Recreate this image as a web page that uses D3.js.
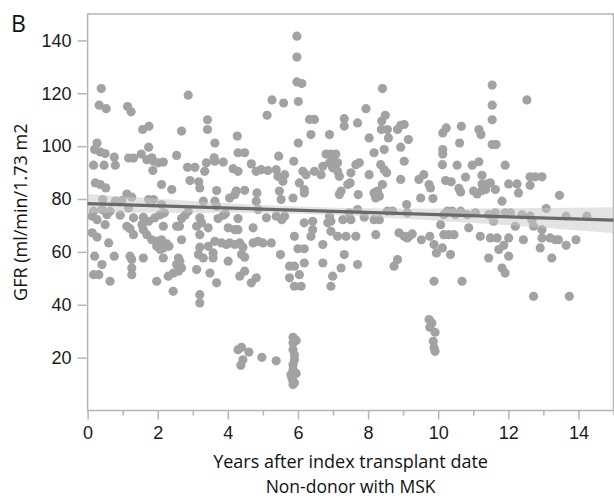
<!DOCTYPE html>
<html>
<head>
<meta charset="utf-8">
<script src="https://cdn.jsdelivr.net/npm/d3@7"></script>
<style>
  body { margin: 0; background: #fff; }
  svg { display: block; font-family: "Open Sans", "Noto Sans", sans-serif; }
  .tick text { fill: #1a1a1a; }
</style>
</head>
<body>
<svg width="614" height="499"></svg>
<script>
// x ticks (years) and y ticks (GFR)
const xMajor = [0, 2, 4, 6, 8, 10, 12, 14];
const xMinor = [1, 3, 5, 7, 9, 11, 13, 15];
const yTicks = [20, 40, 60, 80, 100, 120, 140];

// fitted line and its confidence band
const trendX = [0, 15];
const trendY = [78.3, 72.0];
const bandX = [0, 2, 4, 6, 8, 10, 12, 14, 15];
const bandHi = [81.9, 80.1, 78.4, 77.2, 76.5, 76.4, 76.5, 76.7, 76.9];
const bandLo = [74.7, 74.8, 74.8, 74.4, 73.3, 71.8, 70.1, 68.1, 67.1];

// [years after transplant, GFR]
const points = [
  [0.39,121.8],[0.33,115.5],[0.53,114.2],[1.14,115],[1.24,113],[2.87,119.3],[3.42,110],[3.42,106.3],[3.63,101.2],
  [1.57,106.3],[1.75,107.5],[2.68,105.7],[4.27,103.8],[1.74,99.6],[0.27,101.2],[0.2,98.7],[0.36,97.8],[0.5,97.2],
  [0.76,95.9],[1.17,95.5],[1.31,95.5],[1.53,97],[1.83,95.6],[2.54,96.5],[3.61,95.6],[4.29,97.5],[4.48,97.5],
  [5.97,141.6],[5.97,133.7],[5.97,124.3],[6.11,123.7],[5.26,117.5],[5.59,116.3],[6.01,116.9],[5.12,111.7],[8.41,121.8],
  [7.94,114.2],[6.33,110.1],[6.47,110.1],[7.32,110.4],[7.32,107.6],[7.7,108.8],[8.49,111.7],[8.39,109.5],[8.38,106.3],
  [8.55,106.3],[8.84,106.3],[8.93,107.9],[9.03,108.2],[6.37,104.4],[6.9,104.4],[8.03,103.1],[8.58,103.1],[9.15,102.5],
  [6.01,101.2],[8.93,99.6],[8.46,98.7],[8.17,97.5],[6.8,97],[6.94,97],[7.08,97],[5.45,96.2],
  [11.54,123.1],[12.53,117.5],[11.54,115.5],[11.54,110],[10.23,106.9],[10.13,105],[10.66,107.5],[11.16,106.3],[11.22,104.4],
  [10.61,101.2],[11.54,100.6],[11.65,100.6],[10.13,98.7],[10.13,97],
  [0.17,92.8],[0.47,92.8],[0.79,92.8],[1.69,94.9],[1.88,94.3],[2.02,93.7],[2.16,94],[1.86,90.8],[2.85,92],[3.06,92],
  [3.39,93.7],[3.34,90.5],[3.63,94.3],[3.87,94],[4.15,91.5],[4.29,90.5],[4.67,93.3],[4.81,90.5],
  [0.22,86.1],[0.36,85.5],[0.52,84.2],[2.11,85.5],[2.4,83.6],[2.92,87],[3.17,86.5],[3.2,84.2],[3.68,83.2],[4.24,83],
  [4.48,83.3],[4.83,82.3],
  [1.12,81.9],[1.26,80.7],[0.43,79.8],[0.79,79.2],[0.98,79.4],[1.74,79.8],[1.88,79.8],[2.11,77.9],[3.3,79.2],[3.63,79.2],
  [3.68,77.3],[4.05,80.4],[4.2,81.7],[4.81,79.2],[0.17,75.4],[0.41,76],[0.64,75.4],[1.17,76.6],[2.87,75.4],[4.86,76],
  [0.13,73.5],[0.27,72.2],[0.55,74.1],[0.93,73.9],[1.31,72.9],[1.59,73.1],[1.74,71.6],[1.92,72.9],[2.07,74.1],[2.19,74.8],
  [2.68,72.6],[2.78,73.9],[3.2,72.9],[3.25,71],[3.72,72.6],[3.87,73.9],[3.93,74.4],[4.29,72.6],[0.5,70.3],[1.12,69.7],
  [1.21,68.8],[1.55,70.3],[1.59,68.4],[2.16,69.7],[2.54,69.7],[2.62,69.7],[3.11,69.7],[3.44,69.1],[4.01,69.1],[4.2,68.4],
  [4.29,68.4],[4.72,69.1],
  [0.13,67.2],[0.27,65.6],[1.31,66.5],[1.69,66.5],[1.83,64.6],[1.97,64],[2.11,64.6],[2.26,63],[2.32,62.1],[2.68,64.6],
  [3.2,66.5],[3.63,64],[3.82,63.4],[3.96,62.8],[4.05,63.4],[4.2,62.8],[4.34,63.4],[4.43,61.8],[4.72,63.4],[4.86,64],
  [0.6,63.4],[1.97,62.1],[2.07,60.9],[2.16,61.5],[3.2,61.8],[3.44,62.1],[3.58,59.6],
  [0.2,58.4],[0.76,58.4],[1.21,58.4],[1.26,57.1],[1.59,57.7],[2.16,57.7],[2.59,57.7],[2.63,56.5],[2.54,55.2],[3.16,59],
  [3.3,57.7],[3.58,57.7],[4.01,56.5],[4.39,59],[4.48,58],[0.41,55.2],[1.26,53.9],[2.68,53.9],[2.59,52.7],[2.45,52],
  [3.11,53.3],[3.49,52],[4.48,52.7],[4.34,50.8],[0.17,51.4],[0.32,51.4],[1.26,51.4],[2.3,50.8],[0.64,48.9],[1.97,48.9],
  [3.68,48.3],[4.81,50.2],[4.67,48.3],
  [2.44,45.1],[3.2,43.8],[3.2,40.7],
  [4.29,23],[4.39,23.9],[4.6,22.1],[4.43,19.2],[4.37,17.1],[4.97,20.1],[5.38,18.8],
  [5.86,27.7],[5.86,25.5],[5.95,26.5],[5.86,23],[5.9,21],[5.9,19.2],[5.86,17.3],[5.86,15.4],[5.95,14],[5.8,13.5],
  [5.83,12.3],[5.86,11],[5.9,10.5],[5.86,9.8],
  [9.74,34.4],[9.82,33.1],[9.76,31.5],[9.91,29.6],[9.86,26.2],[9.88,23.7],[9.91,22.4],
  [5.9,47],[6.09,47],[6.94,47],[12.72,43.2],[13.74,43.2],
  [5.14,90.8],[5.38,91.1],[5.43,88.6],[5.57,86.7],[5.62,89.2],[4.95,91.1],[5.88,94.3],[6.14,90.5],[6.23,89.2],[6.47,90.5],
  [6.66,89.2],[6.71,92.4],[6.9,93.7],[6.99,91.8],[7.13,90.5],[7.18,88.6],[6.99,95.6],[7.13,93.7],[7.51,89.9],[7.65,93],
  [7.75,93.7],[8.03,89.2],[8.36,93],[8.46,91.1],[8.53,89.9],[9.03,94.3],[9.45,87.4],[9.59,89.2],[9.74,85.5],[9.78,84.2],
  [8.93,87.4],
  [5.47,83],[6.04,86.1],[6.18,83.6],[6.18,82.3],[7.23,83],[7.18,81.7],[7.49,86.1],[7.42,85.5],[7.72,81.7],[8.17,82.3],
  [8.27,83],[8.32,81.1],[8.22,80.4],[8.41,85.5],[9.5,80.4],[9.85,80.2],[5.52,79.8],[5.86,80.4],
  [5.1,72.9],[5.38,73.5],[5.54,72.2],[5.62,73.5],[6.18,71],[6.42,71.6],[6.9,73.5],[6.85,71],[6.94,71.6],[7.28,72.2],
  [7.46,74.8],[7.51,72.2],[7.7,76],[7.89,73.1],[8.17,72.2],[8.32,72.2],[8.55,75.4],[8.7,75.4],[9.1,77.9],[9.12,74.8],
  [6.42,68.4],[6.37,65.9],[6.94,67.8],[7.13,65.9],[7.37,65.9],[7.65,65.9],[8.22,66.5],[8.88,67.2],[9.03,65.9],[9.17,65.9],
  [9.26,66.8],[9.12,65.3],[9.52,64.6],[9.76,65.9],[5.9,65.9],[5.0,63.4],[5.24,63.4],[6.0,61.2],[6.18,61.2],[6.71,62.8],
  [9.88,62.8],[9.95,59.6],[5.5,59],[7.32,59],[5.76,54.6],[5.9,54.6],[6.18,55.8],[6.71,55.8],[7.23,53.9],[7.7,55.2],
  [8.84,57.1],[8.74,54.6],[6.04,51.4],[5.76,50.2],[6.99,50.8],[9.88,48.9],
  [10.12,93],[10.54,92.8],[10.97,92.8],[11.16,94.1],[11.91,92.8],[10.21,87],[10.37,86.5],[10.78,88.3],[10.59,84],[10.64,82.7],
  [11.25,89],[11.25,85.7],[11.4,85.7],[11.49,86.1],[11.01,83],[11.11,81.9],[11.25,83.2],[11.35,83.6],[11.63,83.6],[12.01,85.7],
  [12.25,85.7],[12.29,82.3],[12.62,88.4],[12.77,88.4],[12.96,88.4],[12.62,85.2],[13.46,81.4],[11.82,79.2],[13.08,76.4],
  [10.26,75.4],[10.4,75.4],[10.64,75.4],[10.16,74.1],[10.49,74.1],[10.83,74.1],[11.06,74.8],[11.44,74.1],[11.58,71.6],[11.63,74.8],
  [11.91,74.8],[12.06,74.8],[12.39,74.1],[12.62,73.5],[12.67,72.2],[13.65,73.5],[14.24,73.5],
  [10.07,70.3],[10.87,69.1],[12.2,69.7],[12.72,69.7],[12.96,68.4],[10.16,66.5],[10.3,66.5],[10.45,66.5],[11.2,65.9],[11.49,65.3],
  [11.68,65.3],[12.01,65.3],[12.43,64.6],[12.96,65.3],[13.19,65.3],[13.34,64.6],[13.43,64.6],[13.93,64.6],[13.65,62.5],[11.87,62.5],
  [11.73,60.9],[10.12,61.5],[12.91,61.5],[10.35,59],[11.44,57.7],[12.01,58.4],[13.24,57.7],[11.82,53.9],[11.91,52],[10.68,48.9]
];

const svg = d3.select('svg');
const plotL = 87.6, plotR = 613.5, plotT = 14, plotB = 410.5;

const x = d3.scaleLinear().domain([0, 15]).range([plotL, plotR]);
const y = d3.scaleLinear().domain([0, 150]).range([plotB, plotT]);

// frame
svg.append('rect')
  .attr('x', plotL).attr('y', plotT)
  .attr('width', plotR - plotL).attr('height', plotB - plotT)
  .attr('fill', 'none')
  .attr('stroke', '#b4b4b4')
  .attr('stroke-width', 1.5);

// points
svg.append('g')
  .selectAll('circle').data(points)
  .enter().append('circle')
    .attr('cx', d => x(d[0]))
    .attr('cy', d => y(d[1]))
    .attr('r', 4.6)
    .attr('fill', '#a2a2a2');

// confidence band + fit line
const band = bandX.map((v, i) => [v, bandLo[i], bandHi[i]]);
svg.append('path')
  .attr('d', d3.area().x(d => x(d[0])).y0(d => y(d[1])).y1(d => y(d[2])).curve(d3.curveMonotoneX)(band))
  .attr('fill', '#c8c8c8')
  .attr('opacity', 0.5);

svg.append('path')
  .attr('d', d3.line().x(d => x(d[0])).y(d => y(d[1]))(trendX.map((v, i) => [v, trendY[i]])))
  .attr('stroke', '#6a6a6a')
  .attr('stroke-width', 3.2)
  .attr('fill', 'none');

// axes
const styleAxis = g => {
  g.select('.domain').remove();
  g.selectAll('.tick line').attr('stroke', '#b4b4b4').attr('stroke-width', 1.5);
  g.selectAll('.tick text').attr('font-size', 18);
};

svg.append('g')
  .attr('transform', `translate(${plotL - 1},0)`)
  .call(d3.axisLeft(y).tickValues(yTicks).tickSize(9).tickPadding(6))
  .call(styleAxis);

svg.append('g')
  .attr('transform', `translate(0,${plotB})`)
  .call(d3.axisBottom(x).tickValues(xMajor).tickSize(9).tickPadding(7))
  .call(styleAxis);

svg.append('g')
  .attr('transform', `translate(0,${plotB})`)
  .call(d3.axisBottom(x).tickValues(xMinor).tickSize(5).tickFormat(''))
  .call(styleAxis);

// labels
svg.append('text')
  .attr('x', 11).attr('y', 32)
  .attr('font-size', 23)
  .attr('fill', '#111')
  .text('B');

svg.append('text')
  .attr('transform', `translate(27,${(plotT + plotB) / 2}) rotate(-90)`)
  .attr('text-anchor', 'middle')
  .attr('font-size', 18)
  .attr('fill', '#111')
  .text('GFR (ml/min/1.73 m2');

svg.append('text')
  .attr('x', (plotL + plotR) / 2).attr('y', 468)
  .attr('text-anchor', 'middle')
  .attr('font-size', 18)
  .attr('fill', '#111')
  .text('Years after index transplant date');

svg.append('text')
  .attr('x', (plotL + plotR) / 2).attr('y', 493)
  .attr('text-anchor', 'middle')
  .attr('font-size', 17.5)
  .attr('fill', '#111')
  .text('Non-donor with MSK');
</script>
</body>
</html>
